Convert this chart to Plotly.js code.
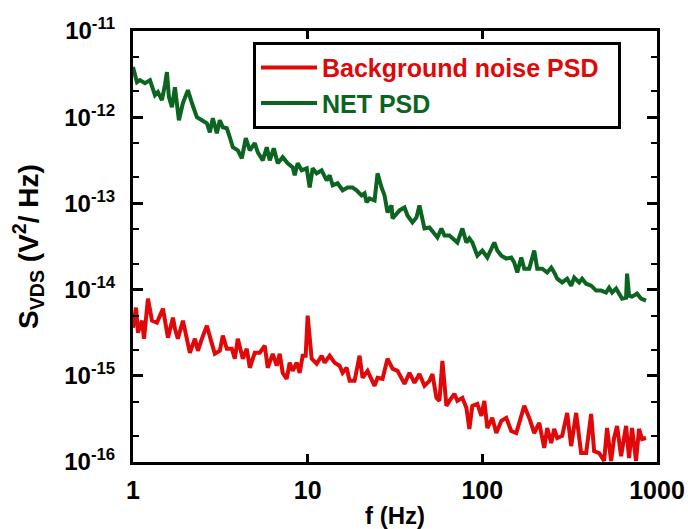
<!DOCTYPE html>
<html>
<head>
<meta charset="utf-8">
<script src="https://cdn.plot.ly/plotly-3.0.1.min.js"></script>
<style>html,body{margin:0;padding:0;background:#fff;}#chart{width:688px;height:529px;}</style>
</head>
<body>
<div id="chart"></div>
<script>
// NET PSD (green)
const netFreq = [1.00,1.054,1.096,1.171,1.251,1.336,1.389,1.464,1.523,1.564,1.606,1.671,1.738,1.832,1.931,2.062,2.174,2.321,2.480,2.648,2.754,2.865,3.020,3.141,3.268,3.444,3.584,3.728,3.981,4.197,4.423,4.663,4.980,5.180,5.533,5.832,6.067,6.394,6.740,7.196,7.686,8.209,8.428,8.767,9.242,9.869,10.27,10.68,11.26,12.02,12.84,13.36,13.90,14.84,15.85,16.93,18.07,19.05,20.35,21.17,21.74,22.61,24.15,25.12,26.48,27.54,28.65,30.20,30.60,32.26,33.56,35.84,37.28,39.81,41.97,43.65,46.63,49.80,53.18,55.33,58.32,60.67,64.77,69.18,71.96,76.86,81.03,84.29,87.67,93.63,100,106.8,112.6,117.1,121.8,128.4,137.1,146.4,152.3,158.5,167.1,173.8,185.6,198.2,206.2,220.3,235.2,248.0,257.9,268.3,286.5,306.0,322.6,335.6,358.4,372.8,393.0,419.7,448.2,478.6,511.2,531.8,553.3,583.2,606.7,631.0,665.2,674.0,691.8,719.6,768.6,810.3,865.2];
const netPSD = [3.81e-12,2.55e-12,2.69e-12,2.48e-12,2.69e-12,1.80e-12,1.95e-12,1.58e-12,2.36e-12,3.34e-12,1.71e-12,1.31e-12,2.23e-12,9.23e-13,1.46e-12,2.06e-12,1.46e-12,1.00e-12,9.23e-13,8.51e-13,6.69e-13,9.74e-13,6.52e-13,9.23e-13,7.65e-13,7.45e-13,5.85e-13,4.48e-13,4.13e-13,3.34e-13,5.70e-13,4.13e-13,4.99e-13,3.92e-13,3.16e-13,4.48e-13,3.16e-13,4.36e-13,2.92e-13,3.43e-13,2.92e-13,2.62e-13,2.12e-13,2.92e-13,2.42e-13,2.55e-13,1.53e-13,2.55e-13,2.23e-13,2.42e-13,1.85e-13,2.12e-13,1.62e-13,1.71e-13,1.42e-13,1.53e-13,1.53e-13,1.42e-13,1.24e-13,1.31e-13,1.03e-13,1.14e-13,1.08e-13,2.23e-13,1.53e-13,1.24e-13,7.86e-14,9.48e-14,6.69e-14,7.65e-14,8.29e-14,8.98e-14,7.25e-14,6.01e-14,6.87e-14,9.48e-14,5.12e-14,5.26e-14,4.48e-14,4.02e-14,5.12e-14,4.25e-14,4.25e-14,3.71e-14,3.52e-14,5.12e-14,3.52e-14,3.92e-14,3.52e-14,2.48e-14,2.84e-14,2.36e-14,3.08e-14,3.52e-14,2.84e-14,2.48e-14,2.29e-14,2.36e-14,2.06e-14,1.58e-14,2.36e-14,1.75e-14,1.75e-14,2.84e-14,1.75e-14,1.75e-14,1.58e-14,1.80e-14,1.58e-14,1.34e-14,1.21e-14,1.34e-14,1.11e-14,1.38e-14,1.21e-14,1.34e-14,1.17e-14,1.11e-14,9.74e-15,9.74e-15,9.23e-15,1.05e-14,9.23e-15,1.03e-14,8.98e-15,7.86e-15,8.07e-15,1.53e-14,8.51e-15,8.29e-15,8.98e-15,7.86e-15,7.45e-15];

// Background noise PSD (red)
const bgFreq = [1.00,1.040,1.068,1.126,1.156,1.218,1.284,1.371,1.427,1.484,1.585,1.693,1.738,1.807,1.931,2.117,2.262,2.352,2.480,2.648,2.828,2.942,3.141,3.268,3.444,3.679,3.827,3.981,4.252,4.481,4.663,4.980,5.318,5.680,5.908,6.310,6.651,6.918,7.196,7.586,7.891,8.209,8.652,9.000,9.363,9.741,10.0,10.54,11.26,12.02,12.51,13.36,14.27,15.23,15.85,16.71,17.38,18.56,19.82,20.62,22.03,24.15,25.12,26.83,28.65,30.60,32.69,34.91,35.84,38.29,40.88,43.65,46.63,49.80,51.80,54.60,56.80,59.08,62.28,64.77,69.18,71.96,76.86,81.03,84.29,87.67,93.63,98.69,102.7,106.8,114.0,120.2,128.4,137.1,146.4,156.4,162.7,173.8,185.6,198.2,211.8,226.1,235.2,248.0,257.9,268.3,286.5,306.0,322.6,344.4,367.9,393.0,419.7,436.5,466.2,497.9,518.0,546.0,568.1,590.9,622.9,665.2,691.8,719.6,758.6,789.1,821.0,865.2];
const bgPSD = [3.61e-15,6.18e-15,3.16e-15,4.36e-15,2.69e-15,7.86e-15,4.36e-15,4.13e-15,4.99e-15,6.01e-15,2.77e-15,4.73e-15,3.52e-15,2.69e-15,4.36e-15,1.85e-15,2.69e-15,1.95e-15,2.69e-15,3.81e-15,2.36e-15,1.80e-15,1.95e-15,2.92e-15,2.06e-15,2.06e-15,1.58e-15,2.69e-15,1.58e-15,2.06e-15,1.24e-15,1.85e-15,1.85e-15,2.23e-15,1.24e-15,1.80e-15,1.31e-15,1.80e-15,1.08e-15,9.23e-16,1.42e-15,1.14e-15,1.42e-15,1.08e-15,1.71e-15,1.71e-15,4.99e-15,1.58e-15,1.38e-15,1.71e-15,1.42e-15,1.71e-15,1.42e-15,1.31e-15,1.08e-15,1.24e-15,8.75e-16,8.75e-16,1.71e-15,9.48e-16,1.14e-15,7.65e-16,9.48e-16,9.23e-16,1.58e-15,1.21e-15,1.14e-15,8.75e-16,8.07e-16,1.08e-15,8.29e-16,1.05e-15,7.65e-16,8.75e-16,1.05e-15,5.55e-16,5.12e-16,1.49e-15,4.48e-16,5.12e-16,6.18e-16,5.12e-16,5.55e-16,4.25e-16,2.42e-16,4.48e-16,4.73e-16,3.43e-16,5.12e-16,2.48e-16,3.25e-16,2.17e-16,3.00e-16,3.25e-16,2.29e-16,2.17e-16,2.84e-16,4.48e-16,3.25e-16,2.17e-16,2.84e-16,1.46e-16,2.48e-16,1.66e-16,2.42e-16,1.90e-16,2.01e-16,3.71e-16,1.53e-16,3.71e-16,1.27e-16,1.27e-16,3.61e-16,1.34e-16,1.27e-16,1.03e-16,2.48e-16,1.03e-16,1.90e-16,2.62e-16,1.17e-16,2.62e-16,1.11e-16,2.48e-16,1.03e-16,2.42e-16,1.85e-16,1.90e-16];

const seriesNames = ['Background noise PSD', 'NET PSD'];
const xTickVals = [1, 10, 100, 1000];
const xTickText = ['1', '10', '100', '1000'];
const yTickVals = [1e-16, 1e-15, 1e-14, 1e-13, 1e-12, 1e-11];
const yTickText = ['10<sup>-16</sup>', '10<sup>-15</sup>', '10<sup>-14</sup>', '10<sup>-13</sup>', '10<sup>-12</sup>', '10<sup>-11</sup>'];

const RED = '#e00808';
const GREEN = '#0b6420';
const FONT = 'Liberation Sans, Arial, Helvetica, sans-serif';

const traces = [
  {x: bgFreq, y: bgPSD, type: 'scatter', mode: 'lines',
   name: '<span style="color:' + RED + '">' + seriesNames[0] + '</span>&nbsp;&nbsp;',
   line: {color: RED, width: 4}},
  {x: netFreq, y: netPSD, type: 'scatter', mode: 'lines',
   name: '<span style="color:' + GREEN + '">' + seriesNames[1] + '</span>',
   line: {color: GREEN, width: 4}}
];

const axisCommon = {
  showline: true, linecolor: '#000', linewidth: 3, mirror: 'ticks',
  ticks: 'inside', tickcolor: '#000', tickwidth: 3,
  showgrid: false, zeroline: false,
  tickfont: {family: FONT, size: 24, color: '#000', weight: 'bold'}
};

const layout = {
  width: 688, height: 529,
  margin: {l: 133, r: 31, t: 31, b: 67},
  paper_bgcolor: '#fff', plot_bgcolor: '#fff',
  font: {family: FONT, color: '#000'},
  showlegend: true,
  legend: {
    x: 0.229, y: 0.975, xanchor: 'left', yanchor: 'top',
    bgcolor: '#fff', bordercolor: '#000', borderwidth: 3,
    font: {family: FONT, size: 25, weight: 'bold'},
    tracegroupgap: 0, itemwidth: 56
  },
  xaxis: Object.assign({}, axisCommon, {
    type: 'log', range: [0, 3],
    tickmode: 'array', tickvals: xTickVals, ticktext: xTickText,
    ticklen: 8, ticklabelstandoff: 4,
    tickfont: {family: FONT, size: 25, color: '#000', weight: 'bold'},
    title: {text: 'f (Hz)', font: {family: FONT, size: 24, weight: 'bold'}, standoff: 6}
  }),
  yaxis: Object.assign({}, axisCommon, {
    type: 'log', range: [-16, -11],
    tickmode: 'array', tickvals: yTickVals, ticktext: yTickText,
    ticklen: 10, ticklabelstandoff: 10,
    minor: {ticks: 'inside', ticklen: 6, tickwidth: 2, tickcolor: '#000', showgrid: false},
    title: {text: 'S<sub>VDS</sub> (V<sup>2</sup>/ Hz)', font: {family: FONT, size: 28, weight: 'bold'}, standoff: 18}
  })
};

Plotly.newPlot('chart', traces, layout, {displayModeBar: false, staticPlot: true});
</script>
</body>
</html>
